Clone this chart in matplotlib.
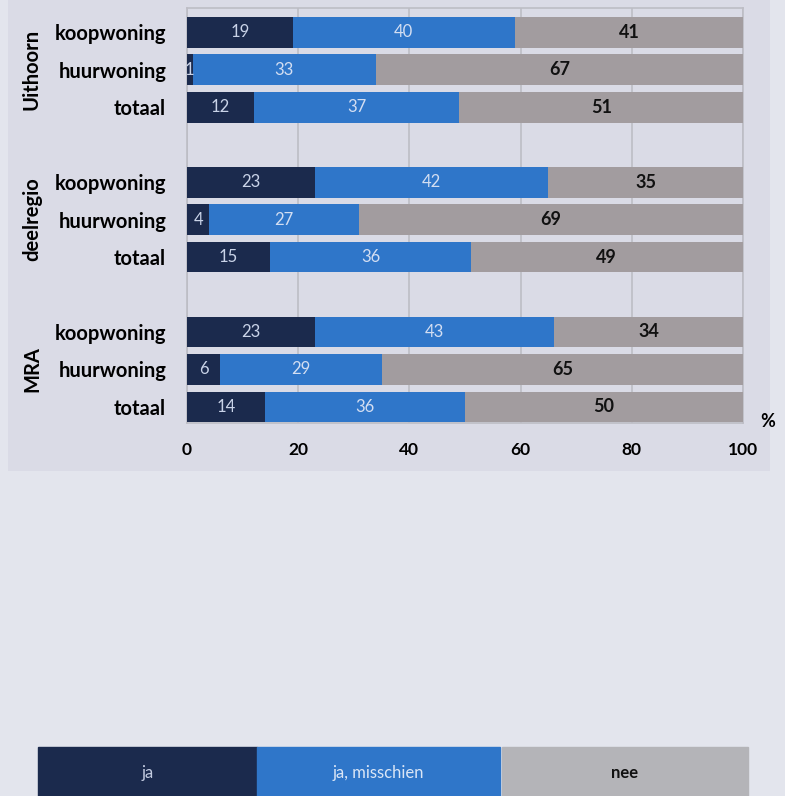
import numpy as np
import matplotlib
matplotlib.use('Agg')
import matplotlib.pyplot as plt
from matplotlib.patches import Rectangle

# data: share (%) per group / housing type
groups = ["Uithoorn", "deelregio", "MRA"]
types = ["koopwoning", "huurwoning", "totaal"]
ja = [19, 1, 12, 23, 4, 15, 23, 6, 14]
ja_misschien = [40, 33, 37, 42, 27, 36, 43, 29, 36]
nee = [41, 67, 51, 35, 69, 49, 34, 65, 50]
xticks = [0, 20, 40, 60, 80, 100]
legend_labels = ["ja", "ja, misschien", "nee"]

c_ja = "#1b2a4d"
c_jm = "#2f76c9"
c_nee = "#a29c9f"
c_leg_nee = "#b4b4b8"
fig_bg = "#e3e5ed"
panel_bg = "#dadbe6"
grid_c = "#bdbdc5"

plt.rcParams['font.family'] = ['Lato', 'DejaVu Sans']

W, H = 785, 796
fig = plt.figure(figsize=(W / 100, H / 100), dpi=100, facecolor=fig_bg)

def px(x0, y0, x1, y1):
    return [x0 / W, 1 - y1 / H, (x1 - x0) / W, (y1 - y0) / H]

# slightly darker panel behind the chart
panel = fig.add_axes(px(8, 0, 770, 471), zorder=-1)
panel.set_facecolor(panel_bg)
panel.set_xticks([])
panel.set_yticks([])
for s in panel.spines.values():
    s.set_visible(False)

ax = fig.add_axes(px(187, 8, 743, 423))
ax.set_facecolor(panel_bg)

# bar positions with a blank slot between groups
pos = []
for g in range(len(groups)):
    pos += [g * 4 + i for i in range(len(types))]
pos = np.array(pos)

ja_a = np.array(ja)
jm_a = np.array(ja_misschien)
nee_a = np.array(nee)
h = 0.82
ax.barh(pos, ja_a, height=h, color=c_ja, zorder=3)
ax.barh(pos, jm_a, left=ja_a, height=h, color=c_jm, zorder=3)
ax.barh(pos, nee_a, left=ja_a + jm_a, height=h, color=c_nee, zorder=3)

for p, a, b, c in zip(pos, ja_a, jm_a, nee_a):
    ax.text(a / 2, p, str(a), ha='center', va='center', fontsize=12,
            color='#c9d3e8', zorder=4)
    ax.text(a + b / 2, p, str(b), ha='center', va='center', fontsize=12,
            color='#d3def2', zorder=4)
    ax.text(min(a + b + c / 2, (a + b + 100) / 2), p, str(c), ha='center', va='center',
            fontsize=13, fontweight='bold', color='#111111', zorder=4)

ax.set_xlim(0, 100)
ax.set_ylim(10.43, -0.65)
ax.set_xticks(xticks)
ax.set_xticklabels([str(t) for t in xticks], fontsize=12.5, fontweight='bold')
ax.tick_params(axis='x', length=0, pad=14)
ax.set_yticks(pos)
ax.set_yticklabels(types * len(groups), fontsize=14.5, fontweight='bold')
ax.tick_params(axis='y', length=0, pad=15)
ax.xaxis.grid(True, color=grid_c, lw=1.2, zorder=1)
for s in ax.spines.values():
    s.set_color(grid_c)
    s.set_linewidth(1.2)

for g, name in enumerate(groups):
    ax.text(-0.279, g * 4 + 1, name, transform=ax.get_yaxis_transform(),
            rotation=90, ha='center', va='center', fontsize=14.5, fontweight='bold')

fig.text(768 / W, 1 - 421 / H, "%", ha='center', va='center',
         fontsize=13, fontweight='bold')

# legend strip along the bottom
leg_boxes = [(38, 257, c_ja, '#c3cbe0', 'normal'),
             (257, 500, c_jm, '#dbe6f6', 'normal'),
             (502, 748, c_leg_nee, '#111111', 'bold')]
for (x0, x1, col, tc, fw), lab in zip(leg_boxes, legend_labels):
    fig.patches.append(Rectangle((x0 / W, 0), (x1 - x0) / W, 49 / H,
                                 transform=fig.transFigure, color=col, zorder=1))
    fig.text((x0 + x1) / 2 / W, 1 - 773 / H, lab, ha='center', va='center',
             fontsize=12, color=tc, fontweight=fw)

fig.savefig("out.png", dpi=100, facecolor=fig_bg)
